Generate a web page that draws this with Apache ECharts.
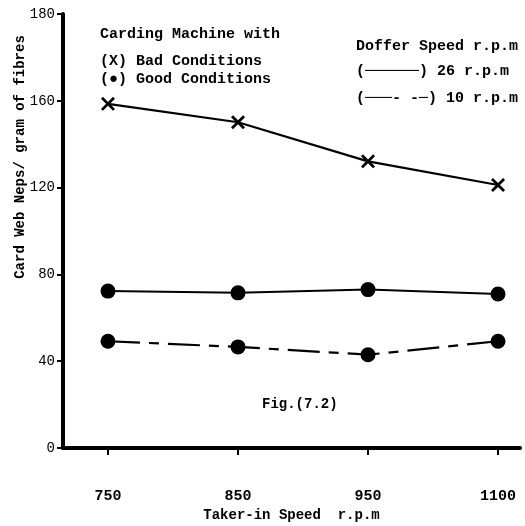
<!DOCTYPE html>
<html>
<head>
<meta charset="utf-8">
<script src="https://cdn.jsdelivr.net/npm/echarts@6/dist/echarts.min.js"></script>
<style>
html,body{margin:0;padding:0;background:#fff;}
#c{width:525px;height:526px;}
</style>
</head>
<body>
<div id="c"></div>
<script>
var categories = ['750', '850', '950', '1100'];
var bad26 = [158.6, 150.1, 132.1, 121.2];
var good26 = [72.3, 71.5, 73.0, 71.0];
var good10 = [49.2, 46.6, 43.0, 49.2];
var yTickValues = [0, 40, 80, 120, 160, 200];
var yTickLabels = ['0', '40', '80', '120', '160', '180'];

var FONT = '"Liberation Mono", "DejaVu Sans Mono", monospace';

function pts(arr) { return arr.map(function (v, i) { return [i, v]; }); }

var chart = echarts.init(document.getElementById('c'), null, {renderer: 'canvas'});
var crossPath = 'path://M0,1.4L1.4,0L5,3.6L8.6,0L10,1.4L6.4,5L10,8.6L8.6,10L5,6.4L1.4,10L0,8.6L3.6,5Z';

chart.setOption({
  animation: false,
  backgroundColor: '#ffffff',
  grid: {left: 63, right: 5, top: 14, bottom: 78, containLabel: false, outerBoundsMode: 'none'},
  xAxis: {
    type: 'value',
    min: -0.346, max: 3.169,
    splitLine: {show: false},
    axisLine: {show: true, onZero: false, lineStyle: {color: '#000', width: 4}},
    axisTick: {show: true, customValues: [0, 1, 2, 3], length: 7, lineStyle: {color: '#000', width: 2}},
    axisLabel: {customValues: [0, 1, 2, 3], formatter: function (v) { return categories[Math.round(v)]; },
      color: '#000', fontFamily: FONT, fontSize: 15, fontWeight: 'bold', margin: 41},
    name: 'Taker-in Speed  r.p.m',
    nameLocation: 'middle', nameGap: 56,
    nameTextStyle: {color: '#000', fontFamily: FONT, fontSize: 14, fontWeight: 'bold'}
  },
  yAxis: {
    type: 'value',
    min: 0, max: 200, interval: 40,
    splitLine: {show: false},
    axisLine: {show: true, onZero: false, lineStyle: {color: '#000', width: 4}},
    axisTick: {show: true, length: 6, lineStyle: {color: '#000', width: 2}},
    axisLabel: {formatter: function (v) { var i = yTickValues.indexOf(v); return i >= 0 ? yTickLabels[i] : ''; },
      color: '#000', fontFamily: FONT, fontSize: 14, margin: 8}
  },
  graphic: [
    {type: 'text', left: 100, top: 27, style: {text: 'Carding Machine with', font: 'bold 15px ' + FONT, fill: '#000'}},
    {type: 'text', left: 100, top: 54, style: {text: '(X) Bad Conditions', font: 'bold 15px ' + FONT, fill: '#000'}},
    {type: 'text', left: 100, top: 72, style: {text: '(\u25CF) Good Conditions', font: 'bold 15px ' + FONT, fill: '#000'}},
    {type: 'text', left: 356, top: 39, style: {text: 'Doffer Speed r.p.m', font: 'bold 15px ' + FONT, fill: '#000'}},
    {type: 'text', left: 356, top: 64, style: {text: '(\u2500\u2500\u2500\u2500\u2500\u2500) 26 r.p.m', font: 'bold 15px ' + FONT, fill: '#000'}},
    {type: 'text', left: 356, top: 91, style: {text: '(\u2500\u2500\u2500- -\u2500) 10 r.p.m', font: 'bold 15px ' + FONT, fill: '#000'}},
    {type: 'text', left: 262, top: 397, style: {text: 'Fig.(7.2)', font: 'bold 14px ' + FONT, fill: '#000'}},
    {type: 'text', x: 20, y: 157, rotation: Math.PI / 2,
      style: {text: 'Card Web Neps/ gram of fibres', font: 'bold 14px ' + FONT, fill: '#000', align: 'center', verticalAlign: 'middle'}}
  ],
  series: [
    {type: 'line', name: 'Bad 26', data: pts(bad26), symbol: crossPath, symbolSize: 14,
      itemStyle: {color: '#000'}, lineStyle: {color: '#000', width: 2.2}},
    {type: 'line', name: 'Good 26', data: pts(good26), symbol: 'circle', symbolSize: 15,
      itemStyle: {color: '#000'}, lineStyle: {color: '#000', width: 2}},
    {type: 'line', name: 'Good 10', data: pts(good10), symbol: 'circle', symbolSize: 15,
      itemStyle: {color: '#000'}, lineStyle: {color: '#000', width: 2.2, type: [32, 9, 10, 9]}}
  ]
});
</script>
</body>
</html>
